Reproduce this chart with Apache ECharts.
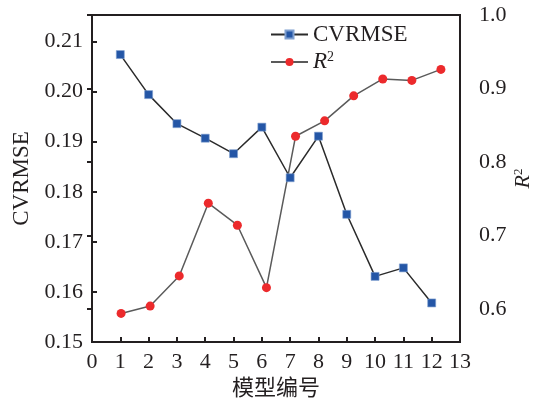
<!DOCTYPE html>
<html>
<head>
<meta charset="utf-8">
<script src="https://cdn.jsdelivr.net/npm/echarts@6/dist/echarts.min.js"></script>
<style>
  html, body { margin: 0; padding: 0; background: #fff; }
  #chart { width: 542px; height: 405px; }
</style>
</head>
<body>
<div id="chart"></div>
<script>
// model index 1..12
var modelNo = [1, 2, 3, 4, 5, 6, 7, 8, 9, 10, 11, 12];
var cvrmse = [0.2074, 0.1994, 0.1936, 0.1907, 0.1876, 0.1929, 0.1828, 0.1911, 0.1755, 0.1631, 0.1648, 0.1578];
var r2 = [0.594, 0.604, 0.645, 0.744, 0.714, 0.629, 0.835, 0.856, 0.890, 0.913, 0.911, 0.926];

var serif = "'Liberation Serif', 'Noto Sans CJK SC', serif";
var ink = '#231f20';

function pairs(xs, ys) {
  return xs.map(function (x, i) { return [x, ys[i]]; });
}

var chart = echarts.init(document.getElementById('chart'));
var option = {
  animation: false,
  grid: [
    { left: 92, right: 72, top: 15, bottom: 60, show: true, borderColor: ink, borderWidth: 2, backgroundColor: 'transparent' },
    { left: 92, right: 72, top: 15, bottom: 96 }
  ],
  legend: {
    orient: 'vertical',
    left: 265,
    top: 18,
    itemWidth: 37,
    itemHeight: 10,
    itemGap: 4,
    textStyle: {
      fontFamily: serif, fontSize: 23, color: ink,
      rich: {
        i: { fontFamily: serif, fontSize: 23, fontStyle: 'italic', color: ink },
        s: { fontFamily: serif, fontSize: 14, color: ink, padding: [0, 0, 10, 0] }
      }
    },
    formatter: function (name) {
      return name === 'R²' ? '{i|R}{s|2}' : name;
    },
    data: ['CVRMSE', 'R²']
  },
  xAxis: [
    {
      gridIndex: 0, type: 'value', min: 0, max: 13, interval: 1,
      name: '模型编号', nameLocation: 'middle', nameGap: 36,
      nameTextStyle: { fontFamily: serif, fontSize: 22, color: ink },
      axisLine: { show: false },
      axisTick: { inside: true, length: 5, lineStyle: { color: ink, width: 2 } },
      axisLabel: { fontFamily: serif, fontSize: 22, color: ink, margin: 9 },
      splitLine: { show: false }
    },
    { gridIndex: 1, type: 'value', min: 0, max: 13, show: false }
  ],
  yAxis: [
    {
      gridIndex: 0, type: 'value', min: 0.15, max: 0.2153, interval: 0.01,
      name: 'CVRMSE', nameLocation: 'middle', nameGap: 56,
      nameTextStyle: { fontFamily: serif, fontSize: 23, color: ink },
      axisLine: { show: false },
      axisTick: { inside: true, length: 5, lineStyle: { color: ink, width: 2 } },
      axisLabel: {
        fontFamily: serif, fontSize: 22, color: ink, margin: 9, showMaxLabel: false,
        formatter: function (v) { return v.toFixed(2); }
      },
      splitLine: { show: false }
    },
    {
      gridIndex: 1, type: 'value', position: 'right', min: 0.6, max: 1.0, interval: 0.1,
      axisLine: { show: false },
      axisTick: { inside: true, length: 5, lineStyle: { color: ink, width: 2 } },
      axisLabel: {
        fontFamily: serif, fontSize: 22, color: ink, margin: 9,
        formatter: function (v) { return v.toFixed(1); }
      },
      splitLine: { show: false }
    },
    {
      // only carries the right-hand axis title, centred on the full frame
      gridIndex: 0, type: 'value', position: 'right', min: 0, max: 1,
      name: '{i|R}{s|2}', nameLocation: 'middle', nameGap: 52,
      nameTextStyle: {
        fontFamily: serif, fontSize: 22, color: ink,
        rich: {
          i: { fontFamily: serif, fontSize: 22, fontStyle: 'italic', color: ink },
          s: { fontFamily: serif, fontSize: 13, color: ink, padding: [0, 0, 9, 0] }
        }
      },
      axisLine: { show: false }, axisTick: { show: false },
      axisLabel: { show: false }, splitLine: { show: false }
    }
  ],
  series: [
    {
      name: 'CVRMSE', type: 'line', xAxisIndex: 0, yAxisIndex: 0,
      data: pairs(modelNo, cvrmse), clip: false,
      symbol: 'rect', symbolSize: 8,
      lineStyle: { color: '#2a2a2a', width: 1.5 },
      itemStyle: { color: '#2456a6', borderColor: '#7f9fd0', borderWidth: 0.6 }
    },
    {
      name: 'R²', type: 'line', xAxisIndex: 1, yAxisIndex: 1,
      data: pairs(modelNo, r2), clip: false,
      symbol: 'circle', symbolSize: 9,
      lineStyle: { color: '#5a5a5a', width: 1.5 },
      itemStyle: { color: '#ec2a2c' }
    }
  ]
};
option && chart.setOption(option);
</script>
</body>
</html>
